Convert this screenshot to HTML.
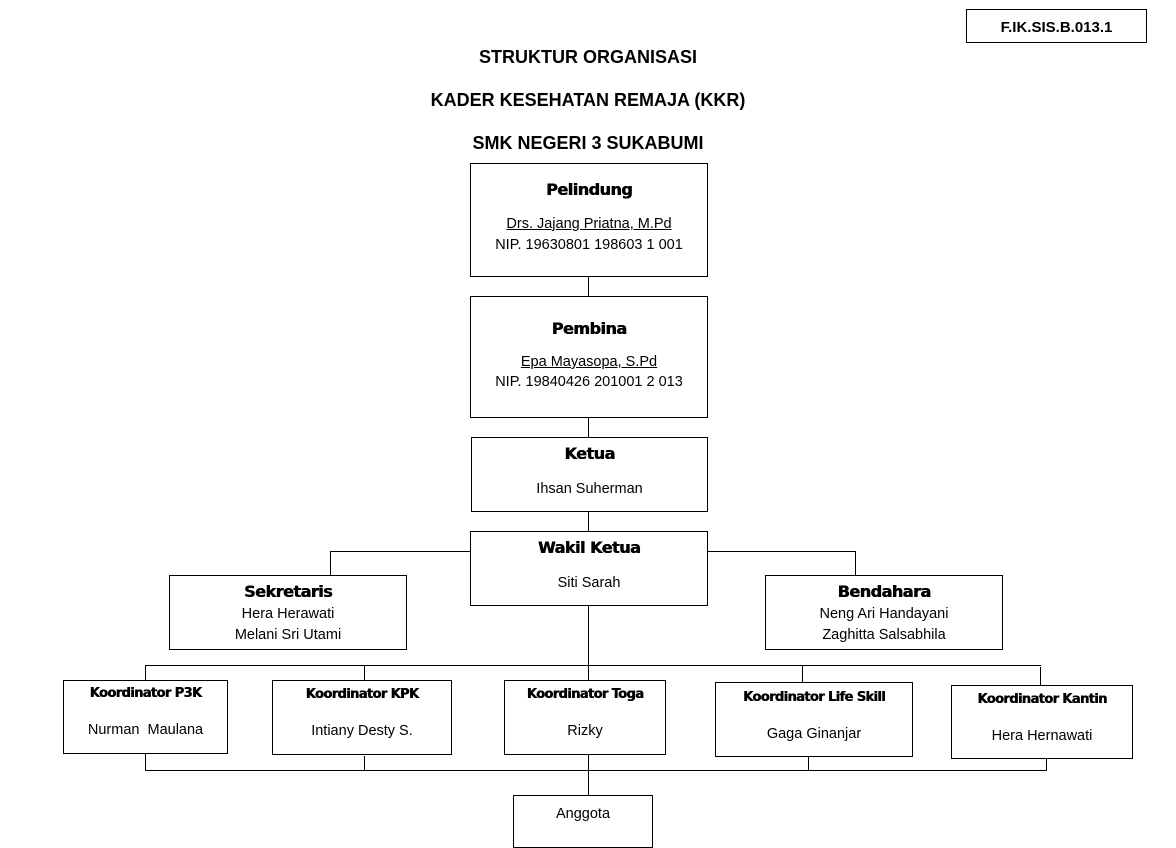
<!DOCTYPE html>
<html><head><meta charset="utf-8"><style>
body{margin:0;width:1176px;height:847px;background:#fff;position:relative;overflow:hidden;font-family:"Liberation Sans",sans-serif;color:#000}
.b{position:absolute;border:1.3px solid #000;box-sizing:border-box;text-align:center;background:#fff}
.h{font-weight:900;font-size:16px;letter-spacing:-0.5px;font-family:"DejaVu Sans",sans-serif;text-shadow:0.6px 0 0 #000}
.hs{font-weight:900;font-size:13px;letter-spacing:-0.6px;font-family:"DejaVu Sans",sans-serif;text-shadow:0.5px 0 0 #000}
.t{font-size:14.5px;line-height:18px}
.l{position:absolute;background:#000}
.tt{position:absolute;left:0;width:1176px;text-align:center;font-weight:bold;font-size:18px}
</style></head><body>
<div class="b" style="left:966px;top:9px;width:181px;height:34px;font-weight:bold;font-size:15px;line-height:36px">F.IK.SIS.B.013.1</div>
<div class="tt" style="top:47px">STRUKTUR ORGANISASI</div>
<div class="tt" style="top:90px">KADER KESEHATAN REMAJA (KKR)</div>
<div class="tt" style="top:133px">SMK NEGERI 3 SUKABUMI</div>

<div class="l" style="left:588px;top:276px;width:1px;height:20px"></div>
<div class="l" style="left:588px;top:417px;width:1px;height:20px"></div>
<div class="l" style="left:588px;top:511px;width:1px;height:20px"></div>
<div class="l" style="left:588px;top:605px;width:1px;height:190px"></div>
<div class="l" style="left:330px;top:551px;width:526px;height:1px"></div>
<div class="l" style="left:330px;top:551px;width:1px;height:24px"></div>
<div class="l" style="left:855px;top:551px;width:1px;height:24px"></div>
<div class="l" style="left:145px;top:665px;width:896px;height:1px"></div>
<div class="l" style="left:145px;top:665px;width:1px;height:15px"></div>
<div class="l" style="left:364px;top:665px;width:1px;height:15px"></div>
<div class="l" style="left:802px;top:665px;width:1px;height:17px"></div>
<div class="l" style="left:1040px;top:667px;width:1px;height:18px"></div>
<div class="l" style="left:145px;top:770px;width:902px;height:1px"></div>
<div class="l" style="left:145px;top:754px;width:1px;height:16px"></div>
<div class="l" style="left:364px;top:756px;width:1px;height:14px"></div>
<div class="l" style="left:808px;top:757px;width:1px;height:13px"></div>
<div class="l" style="left:1046px;top:759px;width:1px;height:12px"></div>

<div class="b" style="left:470px;top:163px;width:238px;height:114px"><div class="h" style="margin-top:16px">Pelindung</div><div class="t" style="margin-top:16px;text-decoration:underline">Drs. Jajang Priatna, M.Pd</div><div class="t" style="margin-top:3px">NIP. 19630801 198603 1 001</div></div>
<div class="b" style="left:470px;top:296px;width:238px;height:122px"><div class="h" style="margin-top:22px">Pembina</div><div class="t" style="margin-top:15px;text-decoration:underline">Epa Mayasopa, S.Pd</div><div class="t" style="margin-top:2px">NIP. 19840426 201001 2 013</div></div>
<div class="b" style="left:471px;top:437px;width:237px;height:75px"><div class="h" style="margin-top:6px">Ketua</div><div class="t" style="margin-top:17px">Ihsan Suherman</div></div>
<div class="b" style="left:470px;top:531px;width:238px;height:75px"><div class="h" style="margin-top:6px">Wakil Ketua</div><div class="t" style="margin-top:17px">Siti Sarah</div></div>
<div class="b" style="left:169px;top:575px;width:238px;height:75px"><div class="h" style="margin-top:6px">Sekretaris</div><div class="t" style="margin-top:4px">Hera Herawati</div><div class="t" style="margin-top:3px">Melani Sri Utami</div></div>
<div class="b" style="left:765px;top:575px;width:238px;height:75px"><div class="h" style="margin-top:6px">Bendahara</div><div class="t" style="margin-top:4px">Neng Ari Handayani</div><div class="t" style="margin-top:3px">Zaghitta Salsabhila</div></div>

<div class="b" style="left:63px;top:680px;width:165px;height:74px"><div class="hs" style="margin-top:5px">Koordinator P3K</div><div class="t" style="margin-top:20px">Nurman&nbsp; Maulana</div></div>
<div class="b" style="left:272px;top:680px;width:180px;height:75px"><div class="hs" style="margin-top:6px">Koordinator KPK</div><div class="t" style="margin-top:20px">Intiany Desty S.</div></div>
<div class="b" style="left:504px;top:680px;width:162px;height:75px"><div class="hs" style="margin-top:6px">Koordinator Toga</div><div class="t" style="margin-top:20px">Rizky</div></div>
<div class="b" style="left:715px;top:682px;width:198px;height:75px"><div class="hs" style="margin-top:7px">Koordinator Life Skill</div><div class="t" style="margin-top:20px">Gaga Ginanjar</div></div>
<div class="b" style="left:951px;top:685px;width:182px;height:74px"><div class="hs" style="margin-top:6px">Koordinator Kantin</div><div class="t" style="margin-top:20px">Hera Hernawati</div></div>
<div class="b" style="left:513px;top:795px;width:140px;height:53px"><div class="t" style="margin-top:9px">Anggota</div></div>
</body></html>
